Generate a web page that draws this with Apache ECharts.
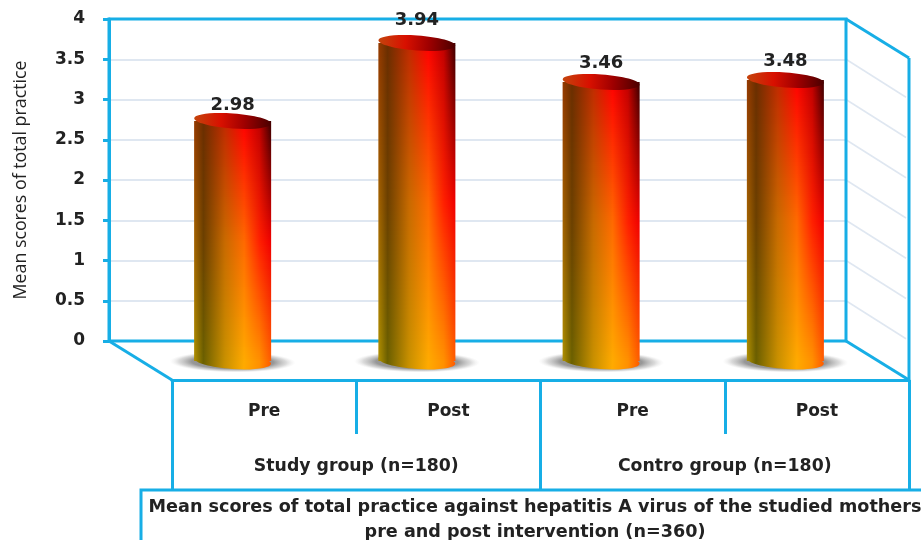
<!DOCTYPE html>
<html>
<head>
<meta charset="utf-8">
<title>Mean scores of total practice</title>
<script src="https://cdn.jsdelivr.net/npm/echarts@6/dist/echarts.min.js"></script>
<style>
  html, body { margin: 0; padding: 0; background: #fff; }
  #chart { width: 921px; height: 540px; }
</style>
</head>
<body>
<div id="chart"></div>
<script>
var phases = ['Pre', 'Post', 'Pre', 'Post'];
var groups = ['Study group (n=180)', 'Contro group (n=180)'];
var scores = [2.98, 3.94, 3.46, 3.48];
var yTicks = [0.5, 1, 1.5, 2, 2.5, 3, 3.5];
var yMax = 4;
var chartTitle = 'Mean scores of total practice against hepatitis A virus of the studied mothers\npre and post intervention (n=360)';
var yTitle = 'Mean scores of total practice';

var BLUE = '#17aee6';
var FONT = '"DejaVu Sans", sans-serif';
// depth of the fake 3d box, in px
var DEPTH_X = 63, DEPTH_Y = 39;
var labelLift = [16, 23, 19, 19];

// cylinder colours across the bar, at its top, middle and foot
var stopAt = [0, 0.12, 0.4, 0.65, 0.85, 1];
var rowTop = [[150, 58, 0], [107, 46, 0], [192, 42, 0], [255, 0, 0], [192, 0, 0], [58, 0, 0]];
var rowMid = [[165, 100, 0], [107, 64, 0], [200, 106, 0], [255, 106, 0], [255, 32, 0], [240, 0, 0]];
var rowEnd = [[176, 144, 0], [107, 96, 0], [200, 144, 0], [255, 170, 0], [255, 144, 0], [255, 90, 0]];

function mix(a, b, t) {
  return Math.round(a + (b - a) * t);
}
function rowGradient(t) {
  var from = t < 0.5 ? rowTop : rowMid;
  var to = t < 0.5 ? rowMid : rowEnd;
  var k = t < 0.5 ? t * 2 : (t - 0.5) * 2;
  return {
    type: 'linear', x: 0, y: 0, x2: 1, y2: 0,
    colorStops: stopAt.map(function (s, n) {
      return {
        offset: s,
        color: 'rgb(' + mix(from[n][0], to[n][0], k) + ',' + mix(from[n][1], to[n][1], k) + ',' + mix(from[n][2], to[n][2], k) + ')'
      };
    })
  };
}

function renderBar(params, api) {
  var i = api.value(0);
  var top = api.coord([i, api.value(1)]);
  var base = api.coord([i, 0]);
  var cx = top[0] + DEPTH_X / 2;
  var yTop = Math.round(top[1] + DEPTH_Y / 2);
  var yBase = Math.round(base[1] + DEPTH_Y / 2);
  var rx = api.size([1, 0])[0] * 0.209;
  var tilt = -0.07;

  var kids = [
    {
      // floor shadow: a circle stretched flat so the radial fade stays elliptical
      type: 'circle',
      x: cx, y: yBase + 1, scaleX: 6, rotation: tilt / 6,
      shape: { cx: 0, cy: 0, r: 10.5 },
      style: {
        fill: {
          type: 'radial', x: 0.5, y: 0.5, r: 0.5,
          colorStops: [
            { offset: 0, color: 'rgba(125,125,125,1)' },
            { offset: 0.65, color: 'rgba(140,140,140,0.9)' },
            { offset: 0.85, color: 'rgba(180,180,180,0.5)' },
            { offset: 1, color: 'rgba(225,225,225,0)' }
          ]
        }
      }
    },
    {
      type: 'ellipse',
      x: cx, y: yBase, rotation: tilt,
      shape: { cx: 0, cy: 0, rx: rx, ry: 8 },
      style: { fill: rowGradient(1) }
    }
  ];
  // whole-pixel strips so the neighbours do not show a seam
  var total = yBase - yTop;
  for (var y = 0; y < total; y += 2) {
    kids.push({
      type: 'rect',
      shape: { x: cx - rx, y: yTop + y, width: rx * 2, height: Math.min(2, total - y) },
      style: { fill: rowGradient(y / total) }
    });
  }
  kids.push({
    type: 'ellipse',
    x: cx, y: yTop, rotation: tilt,
    shape: { cx: 0, cy: 0, rx: rx, ry: 7.5 },
    style: {
      fill: {
        type: 'linear', x: 0, y: 0, x2: 1, y2: 0,
        colorStops: [
          { offset: 0, color: '#c4440c' },
          { offset: 0.35, color: '#d81000' },
          { offset: 0.65, color: '#a00000' },
          { offset: 1, color: '#4a0000' }
        ]
      }
    }
  });
  kids.push({
    type: 'text',
    style: {
      x: cx, y: yTop - labelLift[i],
      text: api.value(1).toFixed(2),
      fill: '#222',
      font: '700 18px ' + FONT,
      align: 'center',
      verticalAlign: 'middle'
    }
  });
  return { type: 'group', children: kids };
}

// pale lines running back along the right-hand wall
function renderSideLine(params, api) {
  var p = api.coord([3.5, api.value(0)]);
  var right = params.coordSys.x + params.coordSys.width;
  return {
    type: 'line',
    shape: { x1: right, y1: p[1], x2: right + DEPTH_X - 3, y2: p[1] + DEPTH_Y - 1 },
    style: { stroke: '#dfe7f1', lineWidth: 1.5 }
  };
}

// the blue edges of the back wall and the ones joining it to the front
function renderEdges(params, api) {
  var cs = params.coordSys;
  var left = cs.x, right = cs.x + cs.width, t = cs.y, b = cs.y + cs.height;
  var st = { stroke: BLUE, lineWidth: 3, fill: 'none' };
  return {
    type: 'group',
    children: [
      { type: 'rect', shape: { x: left, y: t, width: cs.width, height: cs.height }, style: st },
      { type: 'line', shape: { x1: left, y1: b, x2: left + DEPTH_X, y2: b + DEPTH_Y }, style: st },
      { type: 'line', shape: { x1: right, y1: b, x2: right + DEPTH_X, y2: b + DEPTH_Y }, style: st },
      { type: 'line', shape: { x1: right, y1: t, x2: right + DEPTH_X, y2: t + DEPTH_Y }, style: st },
      { type: 'line', shape: { x1: right + DEPTH_X, y1: t + DEPTH_Y, x2: right + DEPTH_X, y2: b + DEPTH_Y }, style: st }
    ]
  };
}

var chart = echarts.init(document.getElementById('chart'));
chart.setOption({
  animation: false,
  backgroundColor: '#fff',
  title: {
    text: chartTitle,
    left: 530,
    top: 490,
    textAlign: 'center',
    textStyle: { fontFamily: FONT, fontSize: 17.6, fontWeight: 700, color: '#222', lineHeight: 25 }
  },
  grid: [
    { left: 109, top: 19, width: 737, height: 322 },
    { left: 172, top: 379, width: 737, height: 1 }
  ],
  xAxis: [
    {
      type: 'category', gridIndex: 0, data: phases.map(function (d, i) { return i; }),
      axisLine: { show: false }, axisTick: { show: false }, axisLabel: { show: false }
    },
    {
      type: 'category', gridIndex: 1, position: 'bottom', data: phases.map(function (d) { return { value: d }; }),
      axisLine: { lineStyle: { color: BLUE, width: 3 } },
      axisTick: { show: true, alignWithLabel: false, length: 54, lineStyle: { color: BLUE, width: 3 } },
      axisLabel: { margin: 23, interval: 0, fontFamily: FONT, fontSize: 17, fontWeight: 700, color: '#222' }
    },
    {
      type: 'category', gridIndex: 1, position: 'bottom', data: groups,
      axisLine: { show: false },
      axisTick: { show: true, length: 110, lineStyle: { color: BLUE, width: 3 } },
      axisLabel: { margin: 78, interval: 0, fontFamily: FONT, fontSize: 17.3, fontWeight: 700, color: '#222' }
    }
  ],
  yAxis: [
    {
      type: 'value', gridIndex: 0, min: 0, max: yMax, interval: 0.5,
      name: yTitle, nameLocation: 'middle', nameGap: 79, nameRotate: 90,
      nameTextStyle: { fontFamily: '"Open Sans", sans-serif', fontSize: 17.8, color: '#222' },
      axisLine: { show: true, lineStyle: { color: BLUE, width: 3 } },
      axisTick: { show: true, length: 6, lineStyle: { color: BLUE, width: 3 } },
      axisLabel: { margin: 24, padding: [8, 0, 0, 0], fontFamily: FONT, fontSize: 17, fontWeight: 700, color: '#222' },
      splitLine: { show: true, lineStyle: { color: '#dfe7f1', width: 2 } }
    },
    { type: 'value', gridIndex: 1, show: false }
  ],
  graphic: [
    {
      type: 'polyline', silent: true,
      shape: { points: [[141, 540], [141, 490], [921, 490]] },
      style: { stroke: BLUE, lineWidth: 3, fill: 'none' }
    }
  ],
  series: [
    {
      type: 'custom', xAxisIndex: 0, yAxisIndex: 0, z: 1, silent: true,
      renderItem: renderSideLine, data: yTicks.map(function (v) { return [v]; }),
      encode: { y: 0 }, clip: false
    },
    {
      type: 'custom', xAxisIndex: 0, yAxisIndex: 0, z: 1, silent: true,
      renderItem: renderEdges, data: [[0]], encode: { y: 0 }, clip: false
    },
    {
      type: 'custom', xAxisIndex: 0, yAxisIndex: 0, z: 3, silent: true,
      renderItem: renderBar,
      data: scores.map(function (v, i) { return [i, v]; }),
      encode: { x: 0, y: 1 }, clip: false
    }
  ]
});
</script>
</body>
</html>
